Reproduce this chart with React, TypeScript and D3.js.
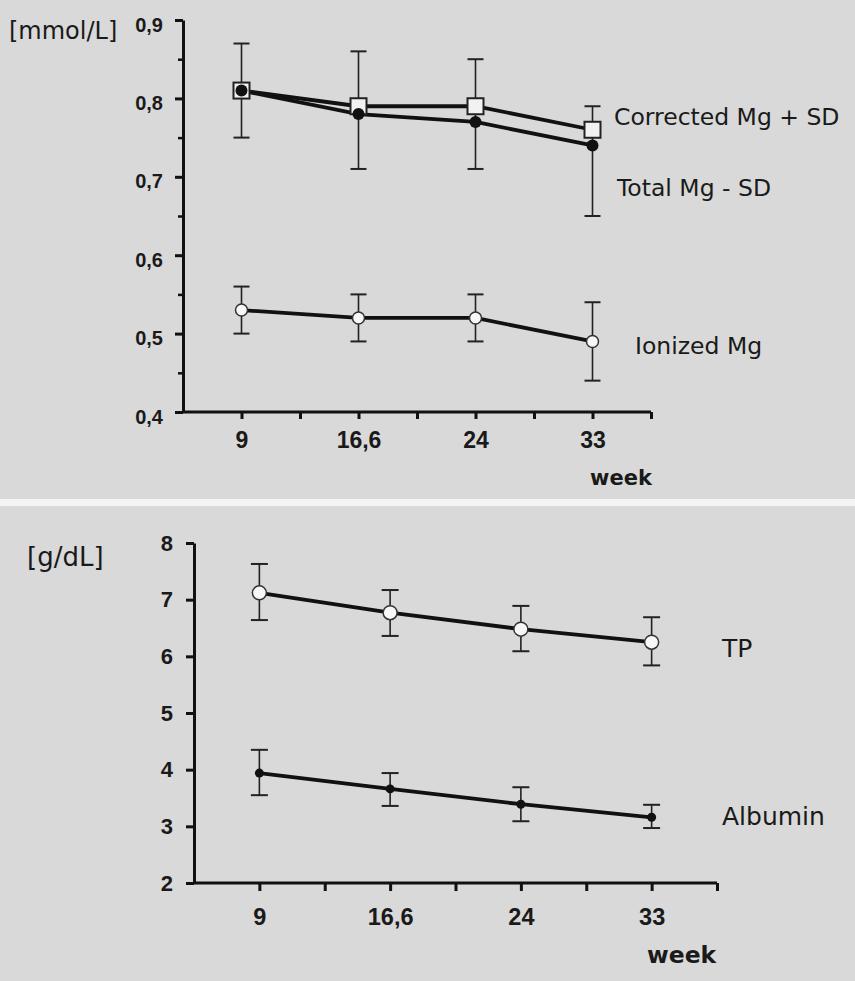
import React, { useRef, useEffect } from "react";
import * as d3 from "d3";

// week labels, placed at odd positions of a 0..8 axis
const weeks = ["9", "16,6", "24", "33"];
const weekPos = [1, 3, 5, 7];

// top panel, mmol/L
const totalMg = [0.81, 0.78, 0.77, 0.74];
const totalMgMinusSD = [0.75, 0.71, 0.71, 0.65];
const correctedMg = [0.81, 0.79, 0.79, 0.76];
const correctedMgPlusSD = [0.87, 0.86, 0.85, 0.79];
const ionizedMg = [0.53, 0.52, 0.52, 0.49];
const ionizedHigh = [0.56, 0.55, 0.55, 0.54];
const ionizedLow = [0.5, 0.49, 0.49, 0.44];
const mgTicks = [0.4, 0.5, 0.6, 0.7, 0.8, 0.9];

// bottom panel, g/dL
const tp = [7.12, 6.77, 6.48, 6.25];
const tpHigh = [7.63, 7.17, 6.89, 6.69];
const tpLow = [6.64, 6.36, 6.09, 5.84];
const albumin = [3.94, 3.66, 3.39, 3.16];
const albuminHigh = [4.35, 3.94, 3.69, 3.38];
const albuminLow = [3.55, 3.36, 3.09, 2.97];
const gTicks = [2, 3, 4, 5, 6, 7, 8];

const FONT = "'DejaVu Sans', Verdana, sans-serif";
const TICK_FONT = "'Liberation Sans', Arial, sans-serif";
const NARROW_FONT = "'Liberation Sans Narrow', 'Arial Narrow', 'Liberation Sans', sans-serif";

function App() {
    const ref = useRef<SVGSVGElement>(null);

    useEffect(() => {
        draw();
    }, []);

    const draw = () => {
        const svg = d3.select(ref.current);
        svg.selectAll("*").remove();

        svg.append("rect").attr("width", 855).attr("height", 981).attr("fill", "#d9d9d9");
        // white strip between the two panels
        svg.append("rect").attr("x", 0).attr("y", 499).attr("width", 855).attr("height", 7).attr("fill", "#f4f4f4");

        const comma = (d: number) => String(d).replace(".", ",");

        const styleAxis = (g: any, size: number, family: string) => {
            g.select(".domain").attr("stroke", "#111").attr("stroke-width", 3);
            g.selectAll(".tick line").attr("stroke", "#111").attr("stroke-width", 3);
            g.selectAll(".tick text")
                .attr("fill", "#1a1a1a")
                .attr("font-family", family)
                .attr("font-weight", "bold")
                .attr("font-size", size);
        };

        const errorBars = (g: any, x: any, y: any, hi: number[], lo: number[], cap: number) => {
            weekPos.forEach((p, i) => {
                const cx = x(p);
                g.append("line").attr("x1", cx).attr("x2", cx).attr("y1", y(hi[i])).attr("y2", y(lo[i]))
                    .attr("stroke", "#222").attr("stroke-width", 1.6);
                [hi[i], lo[i]].forEach((v) => {
                    g.append("line").attr("x1", cx - cap / 2).attr("x2", cx + cap / 2).attr("y1", y(v)).attr("y2", y(v))
                        .attr("stroke", "#222").attr("stroke-width", 2);
                });
            });
        };

        const series = (g: any, x: any, y: any, vals: number[]) => {
            const line = d3.line<number>().x((d, i) => x(weekPos[i])).y((d) => y(d));
            g.append("path").datum(vals).attr("d", line).attr("fill", "none")
                .attr("stroke", "#111").attr("stroke-width", 3.8);
        };

        const label = (x: number, y: number, text: string, size: number, weight = "normal") => {
            svg.append("text").attr("x", x).attr("y", y).text(text)
                .attr("font-family", FONT).attr("font-size", size).attr("font-weight", weight)
                .attr("fill", "#1a1a1a").attr("dominant-baseline", "middle");
        };

        // ---------- top panel ----------
        const x1 = d3.scaleLinear().domain([0, 8]).range([183, 651]);
        const y1 = d3.scaleLinear().domain([0.4, 0.9]).range([412, 20]);
        const top = svg.append("g");

        const minor = top.append("g").attr("transform", "translate(183,0)")
            .call(d3.axisLeft(y1).tickValues([0.45, 0.55, 0.65, 0.75, 0.85]).tickSize(5).tickFormat(() => ""));
        minor.select(".domain").remove();
        minor.selectAll(".tick line").attr("stroke", "#111").attr("stroke-width", 2.5);

        const ya1 = top.append("g").attr("transform", "translate(183,0)")
            .call(d3.axisLeft(y1).tickValues(mgTicks).tickSize(8).tickSizeOuter(0).tickPadding(12).tickFormat(comma as any))
            .call((g: any) => styleAxis(g, 20, TICK_FONT));
        ya1.selectAll(".tick text").attr("dy", "0.55em");

        const xa1 = top.append("g").attr("transform", "translate(0,412)")
            .call(d3.axisBottom(x1).tickValues([1, 2, 3, 4, 5, 6, 7, 8]).tickSize(7).tickSizeOuter(0).tickPadding(13)
                .tickFormat((d: any) => { const k = weekPos.indexOf(d); return k >= 0 ? weeks[k] : ""; }))
            .call((g: any) => styleAxis(g, 23, NARROW_FONT));
        xa1.select(".domain").attr("d", "M183,0H651");

        errorBars(top, x1, y1, correctedMgPlusSD, totalMgMinusSD, 16);
        errorBars(top, x1, y1, ionizedHigh, ionizedLow, 16);
        series(top, x1, y1, correctedMg);
        series(top, x1, y1, totalMg);
        series(top, x1, y1, ionizedMg);

        weekPos.forEach((p, i) => {
            top.append("rect").attr("x", x1(p) - 8).attr("y", y1(correctedMg[i]) - 8).attr("width", 16).attr("height", 16)
                .attr("fill", "#f2f2f2").attr("stroke", "#222").attr("stroke-width", 2);
            top.append("circle").attr("cx", x1(p)).attr("cy", y1(totalMg[i])).attr("r", 6).attr("fill", "#111");
            top.append("circle").attr("cx", x1(p)).attr("cy", y1(ionizedMg[i])).attr("r", 6)
                .attr("fill", "#f7f7f7").attr("stroke", "#333").attr("stroke-width", 1.5);
        });

        label(9, 32, "[mmol/L]", 24);
        label(614, 118, "Corrected Mg + SD", 23.5);
        label(617, 189, "Total Mg - SD", 23.5);
        label(635, 347, "Ionized Mg", 23.5);
        label(590, 479, "week", 21, "bold");

        // ---------- bottom panel ----------
        const x2 = d3.scaleLinear().domain([0, 8]).range([194, 717]);
        const y2 = d3.scaleLinear().domain([2, 8]).range([883, 543]);
        const bot = svg.append("g");

        bot.append("g").attr("transform", "translate(194,0)")
            .call(d3.axisLeft(y2).tickValues(gTicks).tickSize(8).tickSizeOuter(0).tickPadding(13).tickFormat(d3.format("d") as any))
            .call((g: any) => styleAxis(g, 22, TICK_FONT));

        const xa2 = bot.append("g").attr("transform", "translate(0,883)")
            .call(d3.axisBottom(x2).tickValues([1, 2, 3, 4, 5, 6, 7, 8]).tickSize(8).tickSizeOuter(0).tickPadding(17)
                .tickFormat((d: any) => { const k = weekPos.indexOf(d); return k >= 0 ? weeks[k] : ""; }))
            .call((g: any) => styleAxis(g, 23.5, TICK_FONT));
        xa2.select(".domain").attr("d", "M194,0H717");

        errorBars(bot, x2, y2, tpHigh, tpLow, 17);
        errorBars(bot, x2, y2, albuminHigh, albuminLow, 17);
        series(bot, x2, y2, tp);
        series(bot, x2, y2, albumin);

        weekPos.forEach((p, i) => {
            bot.append("circle").attr("cx", x2(p)).attr("cy", y2(tp[i])).attr("r", 7)
                .attr("fill", "#f7f7f7").attr("stroke", "#333").attr("stroke-width", 1.5);
            bot.append("circle").attr("cx", x2(p)).attr("cy", y2(albumin[i])).attr("r", 4.5).attr("fill", "#111");
        });

        label(27, 558, "[g/dL]", 26);
        label(722, 650, "TP", 25);
        label(722, 818, "Albumin", 25);
        label(647, 956, "week", 23.5, "bold");
    };

    return (
        <div className="chart">
            <svg ref={ref} width={855} height={981} style={{ position: "absolute", left: 0, top: 0 }}></svg>
        </div>
    );
}

export default App;
